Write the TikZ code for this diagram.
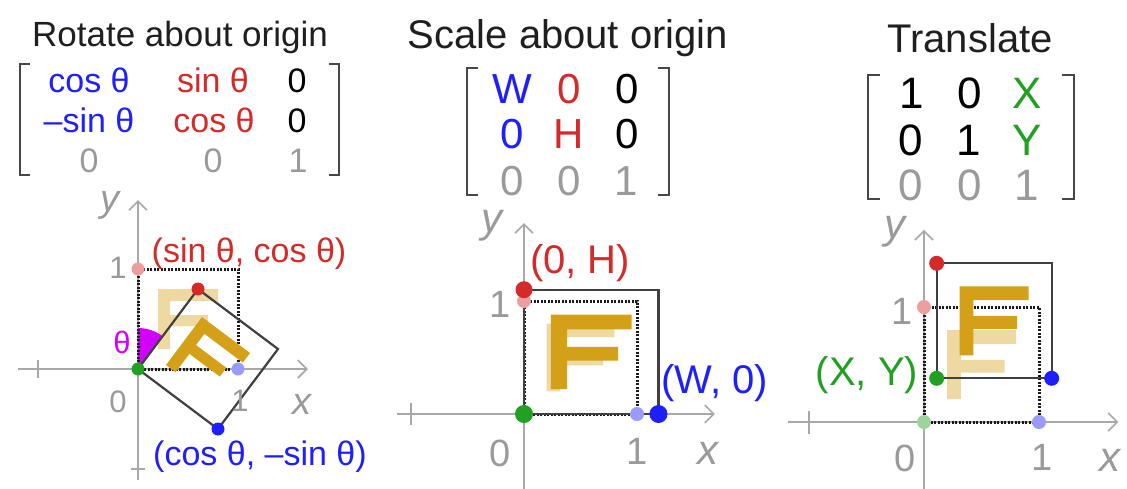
\documentclass[tikz,border=0pt]{standalone}
\usepackage{fontspec}
\setmainfont{Liberation Sans}
\usetikzlibrary{arrows.meta}
\definecolor{cblue}{HTML}{1E1EFF}
\definecolor{cred}{HTML}{D42A2A}
\definecolor{cgreen}{HTML}{22A022}
\definecolor{cgold}{HTML}{D4A017}
\definecolor{cmag}{HTML}{D400FF}
\definecolor{cgray}{HTML}{9A9A9A}
\definecolor{caxis}{HTML}{A8A8A8}
\definecolor{cbrk}{HTML}{474747}
\newcommand\myfs[1]{\fontsize{#1}{#1}\selectfont}
\newcommand\FLetter[1]{\fill[#1] (0.2,0.2) -- (0.32,0.2) -- (0.32,0.43) -- (0.7,0.43) -- (0.7,0.54) -- (0.32,0.54) -- (0.32,0.68) -- (0.8,0.68) -- (0.8,0.8) -- (0.2,0.8) -- cycle;}
\tikzset{
  axis/.style={draw=caxis, line width=1.6pt},
  axarrow/.style={-{Straight Barb[length=9pt,width=18pt]}},
  dotsq/.style={draw=black!90, line width=3pt, dash pattern=on 2pt off 1.5pt},
  solsq/.style={draw=black!75, line width=2.2pt},
  fadeF/.style={fill=cgold!40},
  solidF/.style={fill=cgold},
  brk/.style={draw=cbrk, line width=2.4pt},
  ttl/.style={inner sep=0, anchor=base, text=black!88},
  ent/.style={inner sep=0, anchor=base},
  lab/.style={inner sep=0},
  num/.style={inner sep=0, text=cgray},
  axl/.style={inner sep=0, text=cgray}
}
\begin{document}
\begin{tikzpicture}[x=1pt,y=-1pt]
\useasboundingbox[fill=white] (0,0) rectangle (1127,488);

% ---------------- Left panel: rotate ----------------
\node[ttl, font=\myfs{35}] (t1) at (180,46) {Rotate about origin};
\draw[brk] (30,64) -- (20,64) -- (20,175) -- (30,175);
\draw[brk] (329,64) -- (339,64) -- (339,175) -- (329,175);
\begin{scope}[font=\myfs{34}]
\node[ent, text=cblue] (a11) at (89,92) {cos θ};
\node[ent, text=cred] (a12) at (213,92) {sin θ};
\node[ent, text=black] (a13) at (297,92) {0};
\node[ent, text=cblue] (a21) at (89,132) {–sin θ};
\node[ent, text=cred] (a22) at (214,132) {cos θ};
\node[ent, text=black] (a23) at (297,132) {0};
\node[ent, text=cgray] (a31) at (89,172) {0};
\node[ent, text=cgray] (a32) at (213,172) {0};
\node[ent, text=cgray] (a33) at (298,172) {1};
\end{scope}

\begin{scope}[shift={(138pt,-369pt)}, x=100pt, y=100pt]
  \draw[axis, axarrow] (-1.2,0) -- (1.7,0);
  \draw[axis, axarrow] (0,-1.11) -- (0,1.69);
  \draw[axis] (-1,-0.09) -- (-1,0.09);
  \draw[axis] (-0.07,-1) -- (0.07,-1);
  \FLetter{fadeF}
  \fill[cmag] (0,0) -- (0,0.41) arc[start angle=90, end angle=53.13, radius=0.41] -- cycle;
  \draw[dotsq] (0,0) rectangle (1,1);
  \draw[solsq, rotate=-36.87] (0,0) rectangle (1,1);
  \FLetter{solidF, rotate=-36.87}
  \fill[cred!45] (0,1) circle[radius=6.5pt];
  \fill[cblue!45] (1,0) circle[radius=6.5pt];
  \fill[cgreen] (0,0) circle[radius=6.5pt];
  \fill[cred] (0.6,0.8) circle[radius=6.5pt];
  \fill[cblue] (0.8,-0.6) circle[radius=6.5pt];
\end{scope}
\node[axl, font=\myfs{38}\itshape] (ly1) at (110,205) {y};
\node[axl, font=\myfs{38}\itshape] (lx1) at (302,404) {x};
\node[num, font=\myfs{31}] (l01) at (118,402) {0};
\node[num, font=\myfs{31}] (l1x1) at (240,401) {1};
\node[num, font=\myfs{31}] (l1y1) at (118,268) {1};
\node[lab, text=cmag, font=\myfs{31}] (th) at (122,342) {θ};
\node[lab, text=cred, font=\myfs{34}] (p1) at (249,254) {(sin θ, cos θ)};
\node[lab, text=cblue, font=\myfs{34}] (p2) at (260,457) {(cos θ, –sin θ)};

% ---------------- Middle panel: scale ----------------
\node[ttl, font=\myfs{40}] (t2) at (568,48) {Scale about origin};
\draw[brk] (478,68) -- (467,68) -- (467,195) -- (478,195);
\draw[brk] (658,68) -- (669,68) -- (669,195) -- (658,195);
\begin{scope}[font=\myfs{42}]
\node[ent, text=cblue] (b11) at (512,103) {W};
\node[ent, text=cred] (b12) at (569,103) {0};
\node[ent, text=black] (b13) at (627,103) {0};
\node[ent, text=cblue] (b21) at (512,148) {0};
\node[ent, text=cred] (b22) at (569,148) {H};
\node[ent, text=black] (b23) at (627,148) {0};
\node[ent, text=cgray] (b31) at (512,195) {0};
\node[ent, text=cgray] (b32) at (569,195) {0};
\node[ent, text=cgray] (b33) at (626,195) {1};
\end{scope}

\begin{scope}[shift={(524pt,-414pt)}, x=113pt, y=113pt]
  \draw[axis, axarrow] (-1.12,0) -- (1.69,0);
  \draw[axis, axarrow] (0,-0.7) -- (0,1.69);
  \draw[axis] (-1,-0.1) -- (-1,0.1);
  \FLetter{fadeF}
  \FLetter{solidF, xscale=1.19, yscale=1.1}
  \draw[dotsq] (0,0) rectangle (1,1);
  \draw[solsq] (0,0) rectangle (1.19,1.1);
  \fill[cred!45] (0,1) circle[radius=7pt];
  \fill[cblue!45] (1,0) circle[radius=7pt];
  \fill[cgreen] (0,0) circle[radius=9pt];
  \fill[cred] (0,1.1) circle[radius=8.5pt];
  \fill[cblue] (1.19,0) circle[radius=9pt];
\end{scope}
\node[axl, font=\myfs{42}\itshape] (ly2) at (492,226) {y};
\node[axl, font=\myfs{42}\itshape] (lx2) at (708,453) {x};
\node[num, font=\myfs{38}] (l02) at (500,453) {0};
\node[num, font=\myfs{38}] (l1x2) at (637,451) {1};
\node[num, font=\myfs{38}] (l1y2) at (500,304) {1};
\node[lab, text=cred, font=\myfs{40}] (p3) at (580,263) {(0, H)};
\node[lab, text=cblue, font=\myfs{40}] (p4) at (715,383) {(W, 0)};

% ---------------- Right panel: translate ----------------
\node[ttl, font=\myfs{40}] (t3) at (970,52) {Translate};
\draw[brk] (880,75) -- (868,75) -- (868,199) -- (880,199);
\draw[brk] (1062,75) -- (1074,75) -- (1074,199) -- (1062,199);
\begin{scope}[font=\myfs{44}]
\node[ent, text=black] (c11) at (912,108) {1};
\node[ent, text=black] (c12) at (970,108) {0};
\node[ent, text=cgreen] (c13) at (1027,108) {X};
\node[ent, text=black] (c21) at (911,155) {0};
\node[ent, text=black] (c22) at (969,155) {1};
\node[ent, text=cgreen] (c23) at (1027,155) {Y};
\node[ent, text=cgray] (c31) at (911,200) {0};
\node[ent, text=cgray] (c32) at (970,200) {0};
\node[ent, text=cgray] (c33) at (1027,200) {1};
\end{scope}

\begin{scope}[shift={(924pt,-422pt)}, x=115pt, y=115pt]
  \draw[axis, axarrow] (-1.18,0) -- (1.69,0);
  \draw[axis, axarrow] (0,-0.6) -- (0,1.67);
  \draw[axis] (-1,-0.1) -- (-1,0.1);
  \FLetter{fadeF}
  \draw[dotsq] (0,0) rectangle (1,1);
  \draw[solsq] (0.11,0.38) rectangle (1.11,1.38);
  \FLetter{solidF, shift={(0.11,0.38)}}
  \fill[cgreen!45] (0,0) circle[radius=7pt];
  \fill[cred!45] (0,1) circle[radius=7pt];
  \fill[cblue!45] (1,0) circle[radius=7pt];
  \fill[cgreen] (0.11,0.38) circle[radius=7.5pt];
  \fill[cred] (0.11,1.38) circle[radius=7.5pt];
  \fill[cblue] (1.11,0.38) circle[radius=7.5pt];
\end{scope}
\node[axl, font=\myfs{42}\itshape] (ly3) at (895,232) {y};
\node[axl, font=\myfs{42}\itshape] (lx3) at (1110,460) {x};
\node[num, font=\myfs{38}] (l03) at (905,458) {0};
\node[num, font=\myfs{38}] (l1x3) at (1042,457) {1};
\node[num, font=\myfs{38}] (l1y3) at (902,311) {1};
\node[lab, text=cgreen, font=\myfs{40}] (p5) at (867,375) {(X, Y)};
\end{tikzpicture}
\end{document}
